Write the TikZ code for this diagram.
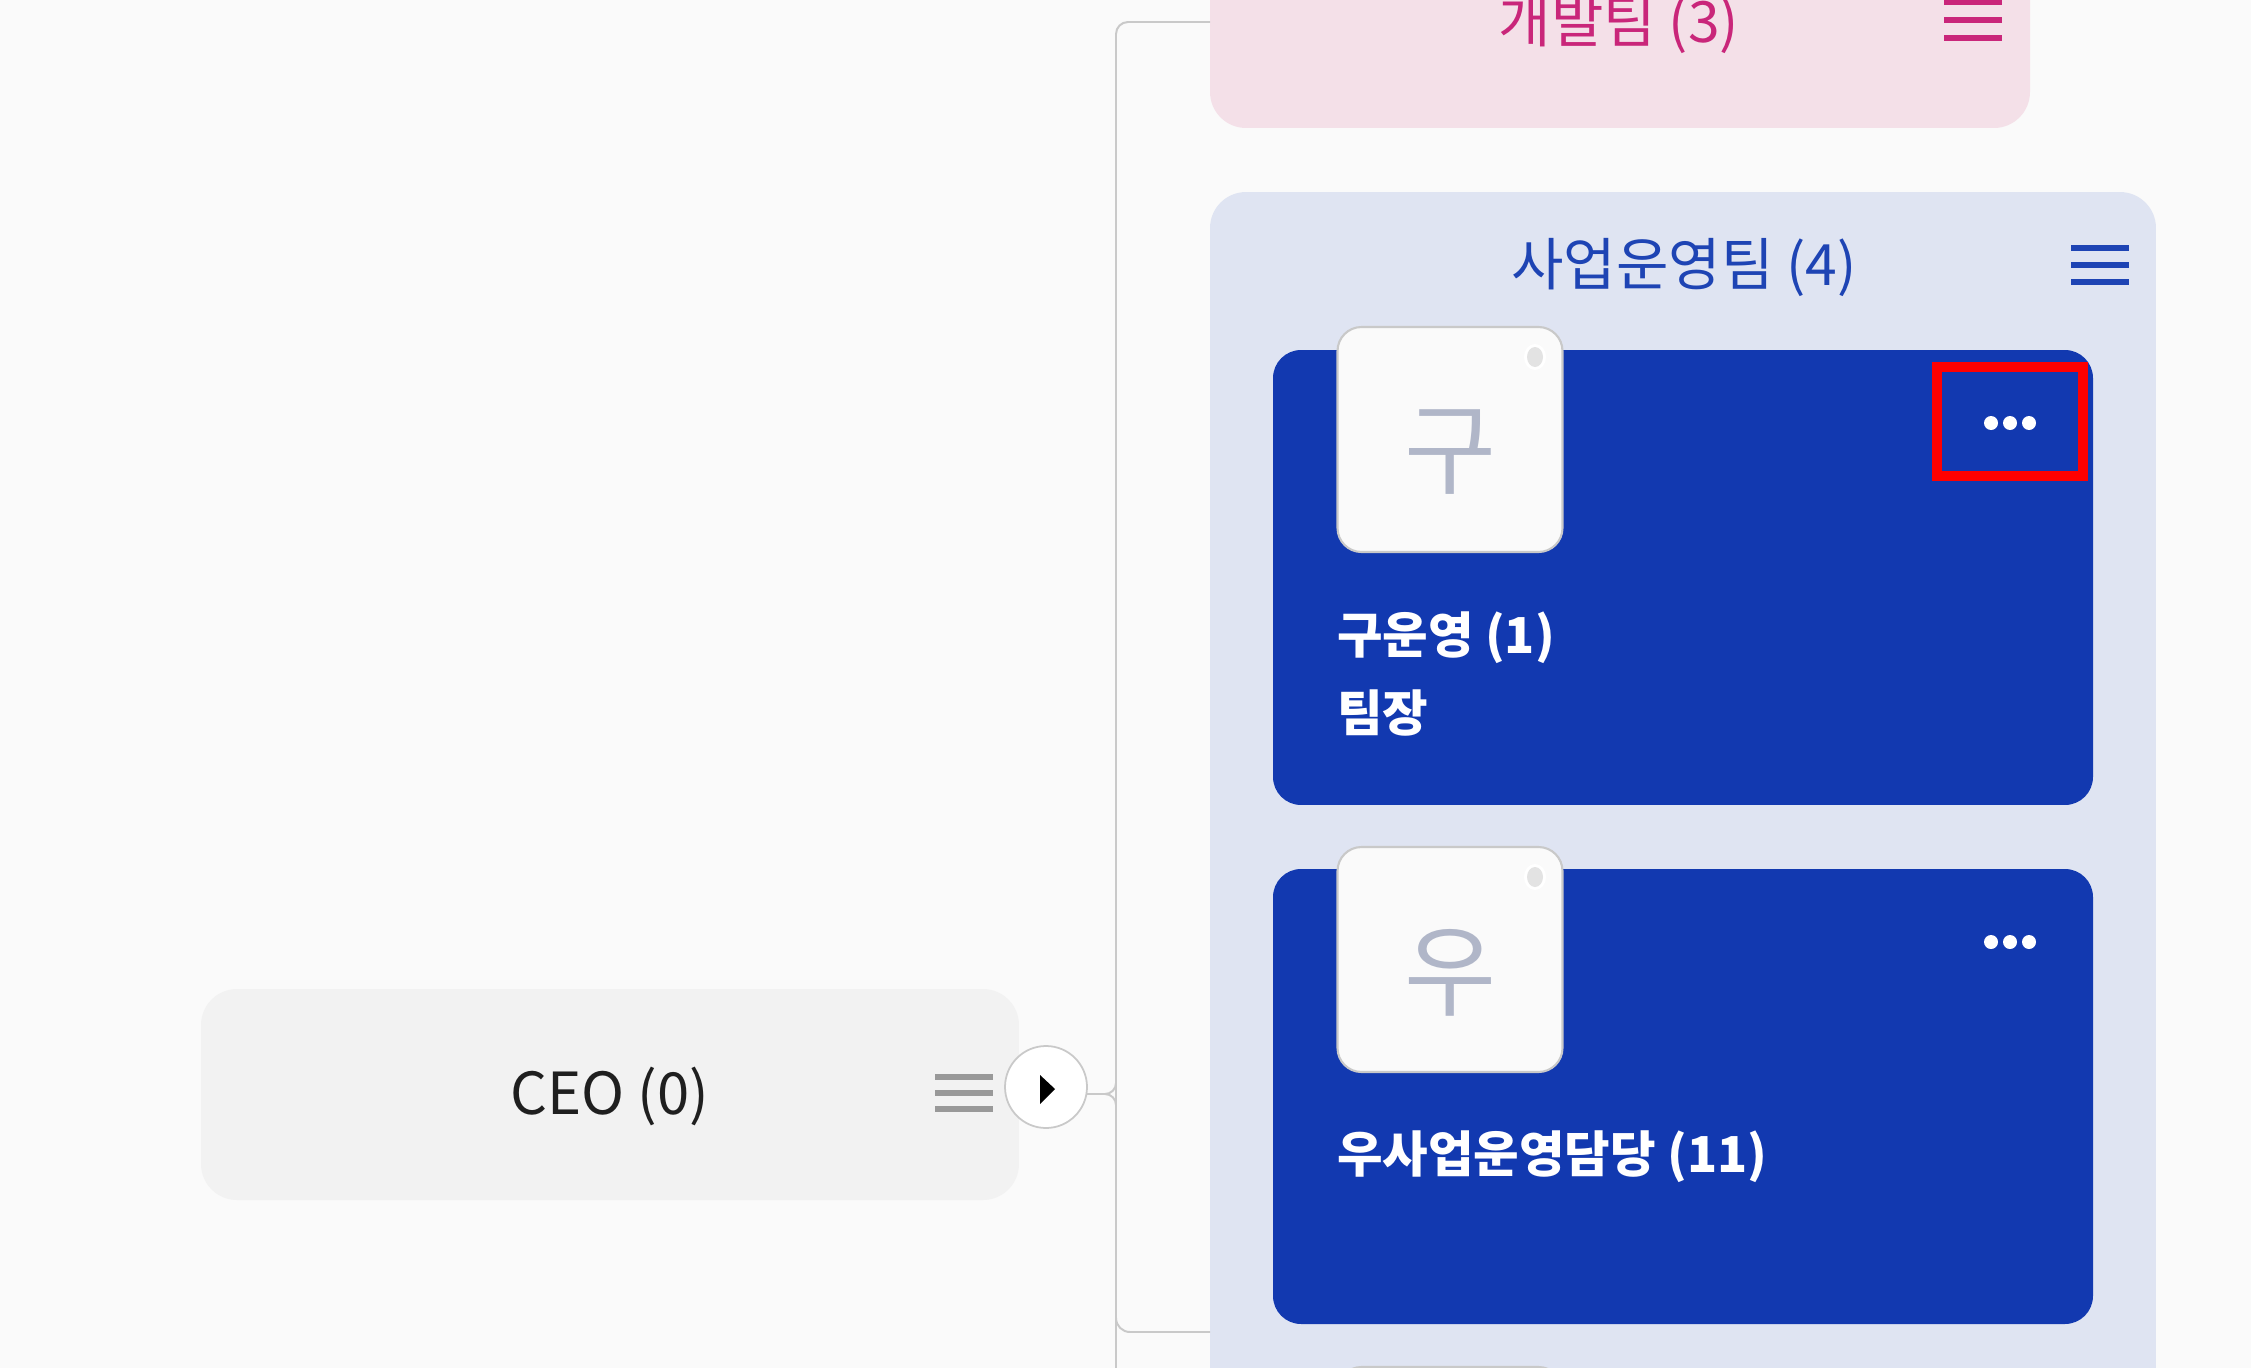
\documentclass[tikz,border=0pt]{standalone}
\usepackage{fontspec}
\setmainfont{Noto Sans CJK KR}
\definecolor{bgc}{HTML}{FAFAFA}
\definecolor{pinkbg}{HTML}{F4E0E8}
\definecolor{pinktx}{HTML}{C9267A}
\definecolor{panelbg}{HTML}{DFE4F2}
\definecolor{cardbl}{HTML}{1239B0}
\definecolor{paneltx}{HTML}{1E44B4}
\definecolor{ceobg}{HTML}{F2F2F2}
\definecolor{linec}{HTML}{C9C9C9}
\definecolor{avtx}{HTML}{B0B6C8}
\newcommand{\fpx}[1]{\fontsize{\dimexpr #1pt*1423/1000\relax}{\dimexpr #1pt*1423/1000*6/5\relax}\selectfont}
\tikzset{
  x=0.05cm,y=-0.05cm,
  panelbox/.style={rectangle,rounded corners=1.8cm,inner sep=0,outer sep=0},
  cardbox/.style={rectangle,rounded corners=1.4cm,inner sep=0,outer sep=0,fill=cardbl,minimum width=41cm,minimum height=22.75cm},
  avatarbox/.style={rectangle,rounded corners=1.2cm,inner sep=0,outer sep=0,fill=bgc,draw=linec,line width=3pt,minimum width=11.25cm,minimum height=11.25cm},
  avletter/.style={inner sep=0,text=avtx,font=\fpx{100}},
  headlabel/.style={inner sep=0,font=\fpx{57}},
  cardlabel/.style={inner sep=0,anchor=west,text=white,font=\fpx{49.5}\bfseries},
  burger/.style={line width=8pt},
  conn/.style={draw=linec,line width=2.8pt},
}
\begin{document}
\begin{tikzpicture}
\useasboundingbox (0,0) rectangle (2251,1368);
\clip (0,0) rectangle (2251,1368);
\fill[bgc] (0,0) rectangle (2251,1368);
% connector anchors
\coordinate (trunkTop) at (1116,22);
\coordinate (trunkEnd) at (1116,1400);
\coordinate (junction) at (1116,1094);
% boxes
\node[panelbox,fill=pinkbg,minimum width=41cm,minimum height=21.4cm] (dev) at (1620,-86) {};
\node[panelbox,fill=panelbg,minimum width=47.3cm,minimum height=70.4cm] (ops) at (1683,896) {};
\node[panelbox,fill=ceobg,minimum width=40.9cm,minimum height=10.55cm] (ceo) at (610,1094.5) {};
% connectors
\draw[conn] (trunkTop -| dev.west) -- (1128,22) to[out=180,in=90] (1116,34) -- (trunkEnd);
\draw[conn] (1105,1094) to[out=0,in=-90] (1116,1083);
\draw[conn] (1105,1094) to[out=0,in=90] (1116,1105);
\draw[conn] (1116,1318) to[out=-90,in=180] (1130,1332) -- (ops.west |- 0,1332);
\node[circle,draw=linec,line width=2.5pt,fill=white,minimum size=4.1cm,inner sep=0,outer sep=0] (toggle) at (1046,1087) {};
\draw[conn] (toggle.east |- junction) -- (1105,1094);
% CEO
\node[headlabel,text=black!88,font=\fpx{58}] (ceotx) at (610,1096) {CEO (0)};
\draw[burger,draw=black!40] (935,1077) -- (993,1077) (935,1093) -- (993,1093) (935,1109) -- (993,1109);
\fill[black] (1040,1075) -- (1055,1089) -- (1040,1104) -- cycle;
% dev
\node[headlabel,text=pinktx] (devtx) at (1619,25) {개발팀 (3)};
\draw[burger,draw=pinktx] (1944,2) -- (2002,2) (1944,20) -- (2002,20) (1944,38) -- (2002,38);
% ops
\node[headlabel,text=paneltx] (opstx) at (1684,268) {사업운영팀 (4)};
\draw[burger,draw=paneltx] (2071,248) -- (2129,248) (2071,265) -- (2129,265) (2071,282) -- (2129,282);
% cards
\node[cardbox] (card1) at (1683,577.5) {};
\node[cardbox] (card2) at (1683,1096.5) {};
% avatars
\foreach \nm/\yy/\ch in {a/439.5/구,b/959.5/우,c/1479.5/{}}{
  \node[avatarbox] (av\nm) at (1450,\yy) {};
  \node[avletter] (lt\nm) at (1450,\yy+13) {\ch};
  \fill[white] (1535,\yy-82.5) ellipse (11 and 13);
  \fill[black!11] (1535,\yy-82.5) ellipse (8 and 10);
}
% dots
\foreach \yy in {423,942}{
  \foreach \xx in {1991,2010,2029}{
    \fill[white] (\xx,\yy) circle (7);
  }
}
% card text
\node[cardlabel] (n1) at (1337,638) {구운영 (1)};
\node[cardlabel] (r1) at (1337,713) {팀장};
\node[cardlabel] (n2) at (1337,1157) {우사업운영담당 (11)};
% highlight
\node[rectangle,draw={rgb,255:red,255;green,0;blue,0},line width=14pt,minimum width=7.3cm,minimum height=5.47cm,inner sep=0,outer sep=0] (hl) at (2010,421.7) {};
\end{tikzpicture}
\end{document}
